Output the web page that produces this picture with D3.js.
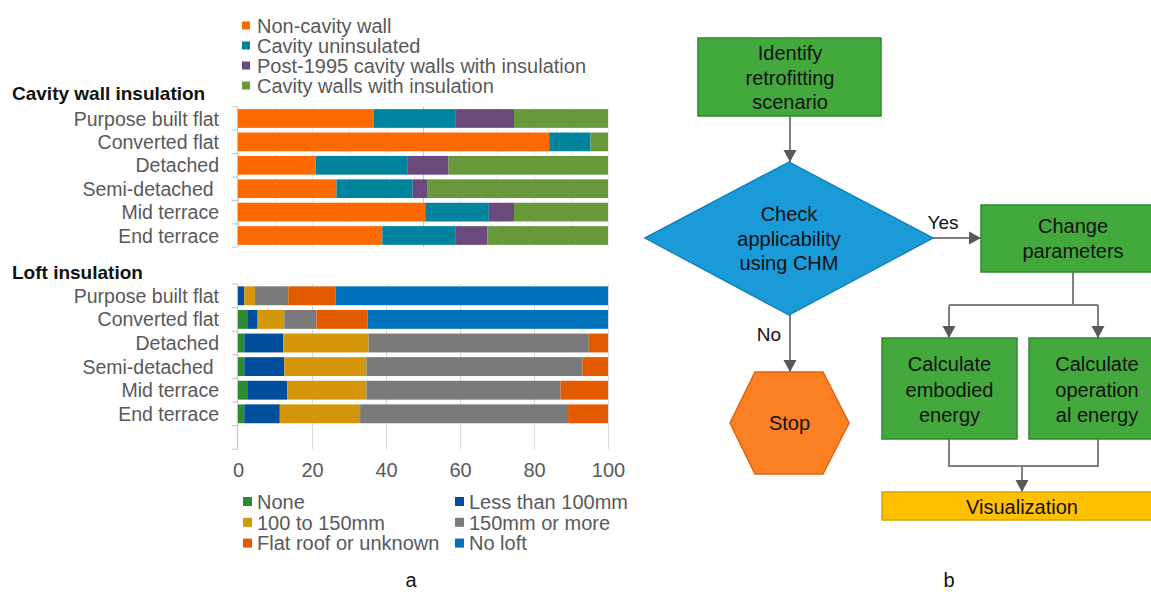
<!DOCTYPE html>
<html>
<head>
<meta charset="utf-8">
<script src="https://cdn.jsdelivr.net/npm/d3@7"></script>
<style>
  body { margin: 0; background: #fff; }
  svg { display: block; font-family: "Liberation Sans", Arial, sans-serif; }
</style>
</head>
<body>
<svg id="fig" width="1151" height="592"></svg>
<script>
// ---- Data: share of dwellings (%) by housing type ----
const housingTypes = ["Purpose built flat", "Converted flat", "Detached", "Semi-detached ", "Mid terrace", "End terrace"];

// Cavity wall insulation
const wallSeries = ["Non-cavity wall", "Cavity uninsulated", "Post-1995 cavity walls with insulation", "Cavity walls with insulation"];
const wallNonCavity         = [36.7, 84.1, 21.0, 26.6, 50.6, 39.0];
const wallCavityUninsulated = [22.0, 11.2, 24.9, 20.6, 17.2, 19.7];
const wallPost1995Insulated = [15.9,  0.0, 11.0,  3.9,  6.8,  8.7];
const wallCavityInsulated   = [25.4,  4.7, 43.1, 48.9, 25.4, 32.6];

// Loft insulation
const loftSeries = ["None", "Less than 100mm", "100 to 150mm", "150mm or more", "Flat roof or unknown", "No loft"];
const loftNone        = [0.0, 2.7,  1.7,  1.7,  2.7,  1.7];
const loftUnder100    = [1.7, 2.6, 10.5, 10.8, 10.6,  9.6];
const loft100to150    = [2.9, 7.2, 23.1, 22.2, 21.4, 21.7];
const loft150plus     = [9.0, 8.7, 59.5, 58.4, 52.5, 56.2];
const loftFlatUnknown = [12.8, 13.8, 5.2,  6.9, 12.8, 10.8];
const loftNoLoft      = [73.6, 65.0, 0.0,  0.0,  0.0,  0.0];

const percentTicks = [0, 20, 40, 60, 80, 100];

// ---- Styles ----
const wallColors = ["#ff6a00", "#00849e", "#6a4a7c", "#67993a"];
const loftColors = ["#2f8a32", "#004f9c", "#d4960a", "#7a7a7a", "#e35b00", "#0072bb"];
const GREY_TEXT = "#595959";

const svg = d3.select("#fig");

function rowsFrom(keys, columns) {
  return housingTypes.map((h, i) => {
    const r = { type: h };
    keys.forEach((k, j) => { r[k] = columns[j][i]; });
    return r;
  });
}

const x = d3.scaleLinear().domain([0, 100]).range([238, 608]);

function stackedPanel(opts) {
  const { keys, columns, colors, top, step, extraSlots, gridValues, gridColor, title, titleY } = opts;
  const rows = rowsFrom(keys, columns);
  const series = d3.stack().keys(keys)(rows);
  const y = d3.scaleBand()
    .domain(housingTypes)
    .range([top, top + step * housingTypes.length])
    .paddingInner(0.2)
    .paddingOuter(0.1);
  const bottom = top + step * (housingTypes.length + extraSlots);
  const g = svg.append("g");

  // gridlines
  g.selectAll("line.grid").data(gridValues).join("line")
    .attr("class", "grid")
    .attr("x1", d => x(d) + 0.5).attr("x2", d => x(d) + 0.5)
    .attr("y1", top).attr("y2", bottom)
    .attr("stroke", d => (d === 50 ? "#c8c8c8" : gridColor))
    .attr("stroke-width", 1);

  // bars
  g.selectAll("g.series").data(series).join("g")
    .attr("class", "series")
    .attr("fill", (d, i) => colors[i])
    .selectAll("rect").data(d => d).join("rect")
    .attr("x", d => x(d[0]))
    .attr("width", d => Math.max(0, x(d[1]) - x(d[0])))
    .attr("y", d => y(d.data.type))
    .attr("height", y.bandwidth());

  // category axis
  const axisX = x(0) - 0.5;
  g.append("line")
    .attr("x1", axisX).attr("x2", axisX)
    .attr("y1", top).attr("y2", bottom)
    .attr("stroke", "#c4c4c4");
  const boundaries = d3.range(housingTypes.length + extraSlots + 1).map(i => top + i * step);
  g.selectAll("line.tick").data(boundaries).join("line")
    .attr("class", "tick")
    .attr("x1", axisX - 6).attr("x2", axisX)
    .attr("y1", d => d).attr("y2", d => d)
    .attr("stroke", "#c4c4c4");
  g.selectAll("text.cat").data(housingTypes).join("text")
    .attr("class", "cat")
    .attr("x", 219)
    .attr("y", d => y(d) + y.bandwidth() / 2)
    .attr("dy", "0.36em")
    .attr("text-anchor", "end")
    .attr("fill", GREY_TEXT)
    .style("font-size", "19.5px")
    .style("white-space", "pre")
    .text(d => d);

  svg.append("text")
    .attr("x", 12).attr("y", titleY)
    .attr("font-weight", "bold")
    .attr("fill", "#111")
    .style("font-size", "19px")
    .text(title);

  return { y, bottom };
}

// Cavity wall panel
stackedPanel({
  keys: wallSeries,
  columns: [wallNonCavity, wallCavityUninsulated, wallPost1995Insulated, wallCavityInsulated],
  colors: wallColors,
  top: 106.8, step: 23.4, extraSlots: 0,
  gridValues: d3.range(10, 101, 10), gridColor: "#ececec",
  title: "Cavity wall insulation", titleY: 100
});

// Loft panel
const loftPanel = stackedPanel({
  keys: loftSeries,
  columns: [loftNone, loftUnder100, loft100to150, loft150plus, loftFlatUnknown, loftNoLoft],
  colors: loftColors,
  top: 284, step: 23.6, extraSlots: 1,
  gridValues: percentTicks.slice(1), gridColor: "#d9d9d9",
  title: "Loft insulation", titleY: 279
});

// percent axis labels
svg.append("g")
  .attr("transform", `translate(0,${loftPanel.bottom + 8})`)
  .call(d3.axisBottom(x).tickValues(percentTicks).tickSize(0).tickPadding(6).tickFormat(d3.format("d")))
  .call(g => g.select(".domain").remove())
  .call(g => g.selectAll("text")
    .attr("fill", GREY_TEXT)
    .style("font-size", "20px")
    .style("font-family", "'Liberation Sans', Arial, sans-serif"));

// Legend: cavity wall
const wallLegend = svg.append("g").selectAll("g").data(wallSeries).join("g")
  .attr("transform", (d, i) => `translate(242,${25.5 + i * 20})`);
wallLegend.append("rect").attr("x", 0).attr("y", -4).attr("width", 8).attr("height", 8)
  .attr("fill", (d, i) => wallColors[i]);
wallLegend.append("text").attr("x", 15).attr("dy", "0.36em")
  .attr("fill", GREY_TEXT).style("font-size", "20px").text(d => d);

// Legend: loft (two columns)
const loftLegend = svg.append("g").selectAll("g").data(loftSeries).join("g")
  .attr("transform", (d, i) => `translate(${i % 2 === 0 ? 243 : 455},${501.5 + Math.floor(i / 2) * 20.8})`);
loftLegend.append("rect").attr("x", 0).attr("y", -4.5).attr("width", 9).attr("height", 9)
  .attr("fill", (d, i) => loftColors[i]);
loftLegend.append("text").attr("x", 14).attr("dy", "0.36em")
  .attr("fill", GREY_TEXT).style("font-size", "20px").text(d => d);

// Panel letters
svg.append("text").attr("x", 411).attr("y", 587).attr("text-anchor", "middle")
  .style("font-size", "20px").attr("fill", "#111").text("a");
svg.append("text").attr("x", 949).attr("y", 587).attr("text-anchor", "middle")
  .style("font-size", "20px").attr("fill", "#111").text("b");

// ---- Retrofitting workflow ----
const flow = svg.append("g");
const LINE = "#808080", HEAD = "#595959";
const GREEN = "#44a93c", GREEN_EDGE = "#2e8a2e";

function connector(points) {
  flow.append("polyline")
    .attr("points", points.map(p => p.join(",")).join(" "))
    .attr("fill", "none").attr("stroke", LINE).attr("stroke-width", 2);
}
function arrow(points) {
  connector(points);
  const [a, b] = points.slice(-2);
  const ang = Math.atan2(b[1] - a[1], b[0] - a[0]);
  const len = 12, half = 6.5;
  const bx = b[0] - len * Math.cos(ang), by = b[1] - len * Math.sin(ang);
  const px = -Math.sin(ang) * half, py = Math.cos(ang) * half;
  flow.append("polygon")
    .attr("points", [[b[0], b[1]], [bx + px, by + py], [bx - px, by - py]].map(p => p.join(",")).join(" "))
    .attr("fill", HEAD);
}
function label(lines, cx, ys, size) {
  lines.forEach((t, i) => {
    flow.append("text").attr("x", cx).attr("y", ys[i]).attr("dy", "0.36em")
      .attr("text-anchor", "middle").attr("fill", "#111")
      .style("font-size", (size || 20) + "px").text(t);
  });
}
function box(x0, y0, w, h, fill, edge) {
  flow.append("rect").attr("x", x0).attr("y", y0).attr("width", w).attr("height", h)
    .attr("fill", fill).attr("stroke", edge).attr("stroke-width", 1.5);
}

// connectors first so the shapes sit above them
arrow([[790, 116], [790, 162]]);
arrow([[933, 238], [981, 238]]);
arrow([[790, 315], [790, 372]]);
connector([[1073, 272], [1073, 305]]);
connector([[949, 305], [1098, 305]]);
arrow([[949, 305], [949, 338]]);
arrow([[1098, 305], [1098, 338]]);
connector([[949, 439], [949, 466], [1098, 466], [1098, 439]]);
arrow([[1022, 466], [1022, 492]]);

box(698, 38, 183, 78, GREEN, GREEN_EDGE);
label(["Identify", "retrofitting", "scenario"], 790, [53, 78, 102]);

flow.append("polygon")
  .attr("points", [[645, 238], [789, 162], [933, 238], [789, 315]].map(p => p.join(",")).join(" "))
  .attr("fill", "#1a9bd7").attr("stroke", "#1583bd").attr("stroke-width", 1.5);
label(["Check", "applicability", "using CHM"], 789, [214, 239, 263]);

flow.append("text").attr("x", 943).attr("y", 222).attr("dy", "0.36em").attr("text-anchor", "middle")
  .attr("fill", "#111").style("font-size", "19px").text("Yes");
flow.append("text").attr("x", 769).attr("y", 334).attr("dy", "0.36em").attr("text-anchor", "middle")
  .attr("fill", "#111").style("font-size", "19px").text("No");

box(981, 205, 184, 67, GREEN, GREEN_EDGE);
label(["Change", "parameters"], 1073, [226, 251]);

box(882, 338, 135, 101, GREEN, GREEN_EDGE);
label(["Calculate", "embodied", "energy"], 949.5, [364, 390, 415]);

box(1029, 338, 136, 101, GREEN, GREEN_EDGE);
label(["Calculate", "operation", "al energy"], 1097, [364, 390, 415]);

box(882, 492, 283, 28, "#ffc000", "#d9a300");
label(["Visualization"], 1022, [507]);

flow.append("polygon")
  .attr("points", [[730, 423], [755, 372], [823, 372], [849, 423], [823, 474], [755, 474]].map(p => p.join(",")).join(" "))
  .attr("fill", "#fb8024").attr("stroke", "#e2620e").attr("stroke-width", 1.5);
label(["Stop"], 789.5, [423]);
</script>
</body>
</html>
